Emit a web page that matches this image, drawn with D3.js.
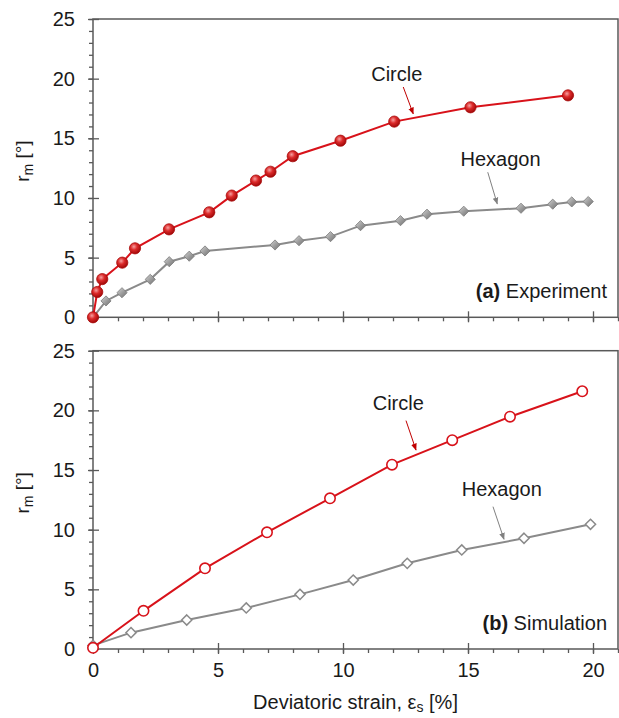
<!DOCTYPE html>
<html>
<head>
<meta charset="utf-8">
<script src="https://cdn.jsdelivr.net/npm/d3@7"></script>
<style>
  html, body { margin: 0; padding: 0; background: #fff; }
  svg { display: block; font-family: "Liberation Sans", Arial, sans-serif; }
</style>
</head>
<body>
<svg id="chart" width="619" height="718"></svg>
<script>
// Rotation r_m versus deviatoric strain, experiment (a) and simulation (b)
const expCircleStrain = [0, 0.17, 0.37, 1.17, 1.68, 3.04, 4.65, 5.55, 6.52, 7.1, 7.99, 9.9, 12.05, 15.1, 19.0];
const expCircleRot    = [0, 2.12, 3.2, 4.58, 5.78, 7.37, 8.8, 10.2, 11.46, 12.2, 13.5, 14.8, 16.4, 17.6, 18.6];
const expHexStrain = [0, 0.52, 1.16, 2.29, 3.05, 3.85, 4.48, 7.28, 8.24, 9.5, 10.7, 12.3, 13.36, 14.83, 17.12, 18.39, 19.15, 19.81];
const expHexRot    = [0, 1.37, 2.06, 3.18, 4.66, 5.12, 5.56, 6.06, 6.42, 6.76, 7.68, 8.1, 8.64, 8.89, 9.14, 9.48, 9.67, 9.7];
const simCircleStrain = [0, 2.02, 4.48, 6.96, 9.48, 11.96, 14.37, 16.68, 19.57];
const simCircleRot    = [0.1, 3.2, 6.76, 9.78, 12.63, 15.45, 17.5, 19.47, 21.6];
const simHexStrain = [0, 1.52, 3.75, 6.13, 8.28, 10.41, 12.57, 14.75, 17.24, 19.9];
const simHexRot    = [0.3, 1.37, 2.43, 3.44, 4.58, 5.78, 7.18, 8.3, 9.28, 10.45];
const yTicks = [0, 5, 10, 15, 20, 25];
const xTicks = [0, 5, 10, 15, 20];
const seriesNames = ["Circle", "Hexagon"];
const panelLabels = [["(a)", " Experiment"], ["(b)", " Simulation"]];

const RED = "#d8121a", GRAY = "#8a8a8a", AXIS = "#595959", TEXT = "#1a1a1a";
const svg = d3.select("#chart");
const left = 93, right = 618;
const x = d3.scaleLinear().domain([0, 21]).range([left, right]);

const defs = svg.append("defs");
const rg = defs.append("radialGradient").attr("id", "ballRed").attr("cx", "40%").attr("cy", "35%").attr("r", "65%");
rg.append("stop").attr("offset", "0%").attr("stop-color", "#f6a0a0");
rg.append("stop").attr("offset", "45%").attr("stop-color", "#dc2a2a");
rg.append("stop").attr("offset", "100%").attr("stop-color", "#a00808");
const dg = defs.append("linearGradient").attr("id", "gemGray").attr("x1", "0").attr("y1", "0").attr("x2", "1").attr("y2", "1");
dg.append("stop").attr("offset", "0%").attr("stop-color", "#d4d4d4");
dg.append("stop").attr("offset", "55%").attr("stop-color", "#9a9a9a");
dg.append("stop").attr("offset", "100%").attr("stop-color", "#6e6e6e");
["arrowRed", "arrowGray"].forEach((id, i) => {
  defs.append("marker").attr("id", id).attr("viewBox", "0 0 10 10").attr("refX", 9).attr("refY", 5)
    .attr("markerWidth", 7).attr("markerHeight", 7).attr("orient", "auto").attr("markerUnits", "userSpaceOnUse")
    .append("path").attr("d", "M0,1 L10,5 L0,9 Z").attr("fill", i === 0 ? "#c00000" : "#808080");
});

function drawPanel(top, bottom, circ, hex, filled, label, showX, notes) {
  const y = d3.scaleLinear().domain([0, 25]).range([bottom, top]);
  const g = svg.append("g");

  // frame
  g.append("rect").attr("x", left).attr("y", top).attr("width", right - left).attr("height", bottom - top)
    .attr("fill", "none").attr("stroke", AXIS).attr("stroke-width", 1.5);

  // y axis: minor outward, major crossing
  const yMinor = g.append("g").attr("transform", `translate(${left},0)`)
    .call(d3.axisLeft(y).tickValues(d3.range(0, 26, 1)).tickSize(4).tickFormat(""));
  const yMajIn = g.append("g").attr("transform", `translate(${left},0)`)
    .call(d3.axisLeft(y).tickValues(yTicks).tickSize(-6).tickFormat(""));
  const yMaj = g.append("g").attr("transform", `translate(${left},0)`)
    .call(d3.axisLeft(y).tickValues(yTicks).tickSize(5).tickPadding(13).tickFormat(d3.format("d")));
  // x axis
  const xMinor = g.append("g").attr("transform", `translate(0,${bottom})`)
    .call(d3.axisBottom(x).tickValues(d3.range(0, 22, 1)).tickSize(4).tickFormat(""));
  const xMajIn = g.append("g").attr("transform", `translate(0,${bottom})`)
    .call(d3.axisBottom(x).tickValues(xTicks).tickSize(-6).tickFormat(""));
  const xMaj = g.append("g").attr("transform", `translate(0,${bottom})`)
    .call(d3.axisBottom(x).tickValues(xTicks).tickSize(5).tickPadding(9)
      .tickFormat(showX ? d3.format("d") : ""));
  [yMinor, yMajIn, yMaj, xMinor, xMajIn, xMaj].forEach(a => {
    a.select(".domain").remove();
    a.selectAll("line").attr("stroke", AXIS).attr("stroke-width", 1.3);
    a.selectAll("text").attr("font-size", 20).attr("fill", TEXT).attr("font-family", "Liberation Sans, Arial, sans-serif");
  });

  // y axis title
  const yt = g.append("text")
    .attr("transform", `translate(29,${(top + bottom) / 2 - 7}) rotate(-90)`)
    .attr("text-anchor", "middle").attr("font-size", 19).attr("fill", TEXT);
  yt.append("tspan").text("r");
  yt.append("tspan").attr("font-size", 14).attr("dy", 4).text("m");
  yt.append("tspan").attr("dy", -4).text(" [°]");

  const line = d3.line().x(d => x(d[0])).y(d => y(d[1]));
  const hexPts = d3.zip(hex[0], hex[1]);
  const circPts = d3.zip(circ[0], circ[1]);

  g.append("path").datum(hexPts).attr("d", line).attr("fill", "none").attr("stroke", GRAY).attr("stroke-width", 2);
  g.selectAll(".dia").data(hexPts).join("path").attr("class", "dia")
    .attr("transform", d => `translate(${x(d[0])},${y(d[1])})`)
    .attr("d", d3.symbol(d3.symbolDiamond2, 66))
    .attr("fill", filled ? "url(#gemGray)" : "#fff")
    .attr("stroke", filled ? "#7a7a7a" : "#8a8a8a").attr("stroke-width", filled ? 0.8 : 1.5);

  g.append("path").datum(circPts).attr("d", line).attr("fill", "none").attr("stroke", RED).attr("stroke-width", 2);
  g.selectAll(".ball").data(circPts).join("circle").attr("class", "ball")
    .attr("cx", d => x(d[0])).attr("cy", d => y(d[1])).attr("r", filled ? 5.6 : 5.2)
    .attr("fill", filled ? "url(#ballRed)" : "#fff")
    .attr("stroke", filled ? "#a80a0a" : RED).attr("stroke-width", filled ? 0.8 : 1.6);

  // series annotations with arrows
  notes.forEach((n, i) => {
    g.append("text").attr("x", x(n.tx)).attr("y", y(n.ty)).attr("text-anchor", "middle")
      .attr("font-size", 20).attr("fill", TEXT).text(seriesNames[i]);
    g.append("line").attr("x1", x(n.a[0])).attr("y1", y(n.a[1])).attr("x2", x(n.a[2])).attr("y2", y(n.a[3]))
      .attr("stroke", i === 0 ? "#c00000" : "#808080").attr("stroke-width", 1)
      .attr("marker-end", i === 0 ? "url(#arrowRed)" : "url(#arrowGray)");
  });

  // panel label
  const pl = g.append("text").attr("x", right - 11).attr("y", bottom - 19).attr("text-anchor", "end")
    .attr("font-size", 20).attr("fill", TEXT);
  pl.append("tspan").attr("font-weight", "bold").text(label[0]);
  pl.append("tspan").text(label[1]);
}

drawPanel(19, 317.3, [expCircleStrain, expCircleRot], [expHexStrain, expHexRot], true, panelLabels[0], false, [
  { tx: 12.15, ty: 19.8, a: [12.41, 19.3, 12.81, 17.05] },
  { tx: 16.3, ty: 12.7, a: [15.79, 12.16, 16.17, 9.5] }
]);
drawPanel(350.7, 649, [simCircleStrain, simCircleRot], [simHexStrain, simHexRot], false, panelLabels[1], true, [
  { tx: 12.21, ty: 20.0, a: [12.52, 19.14, 12.92, 16.68] },
  { tx: 16.35, ty: 12.8, a: [16.0, 11.93, 16.44, 9.2] }
]);

// shared x axis title
const xt = svg.append("text").attr("x", (left + right) / 2).attr("y", 709).attr("text-anchor", "middle")
  .attr("font-size", 20).attr("fill", TEXT);
xt.append("tspan").text("Deviatoric strain, ε");
xt.append("tspan").attr("font-size", 14).attr("dy", 3).text("s");
xt.append("tspan").attr("dy", -3).text(" [%]");
</script>
</body>
</html>
